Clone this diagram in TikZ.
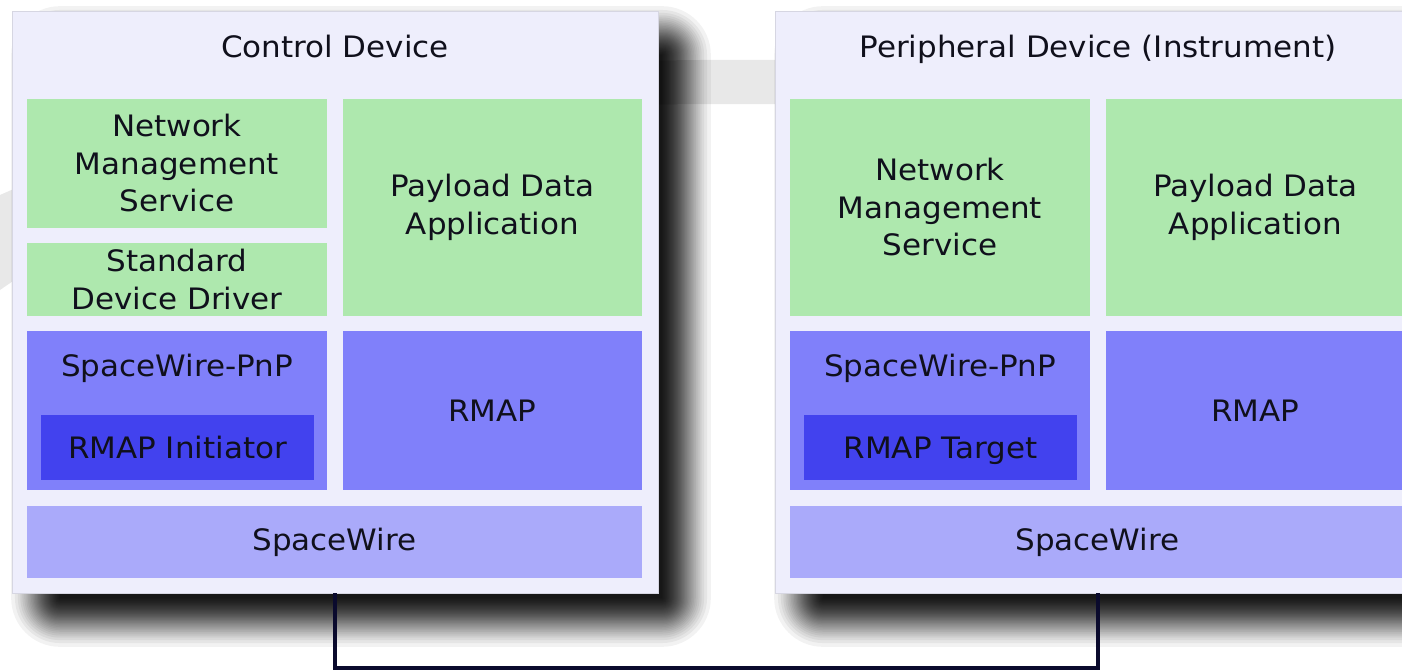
\documentclass[tikz,border=0pt]{standalone}
\usepackage{fontspec}
\setmainfont{DejaVu Sans}[FakeStretch=1.05]
\definecolor{panelbg}{RGB}{238,238,252}
\definecolor{panelln}{RGB}{214,214,226}
\definecolor{appgreen}{RGB}{174,232,174}
\definecolor{midblue}{RGB}{128,128,250}
\definecolor{darkblue}{RGB}{66,66,238}
\definecolor{lightblue}{RGB}{170,170,250}
\definecolor{txtc}{RGB}{16,16,28}
\definecolor{wirec}{RGB}{10,10,45}
\definecolor{swoosh}{RGB}{232,232,232}
\begin{document}
\begin{tikzpicture}[x=1pt,y=-1pt,
  panel/.style={fill=panelbg, draw=panelln, line width=1pt, inner sep=0pt, outer sep=0pt},
  blk/.style={inner sep=0pt, outer sep=0pt, align=center, text=txtc,
    font=\fontsize{29.5}{37.5}\selectfont},
  green/.style={blk, fill=appgreen},
  mid/.style={blk, fill=midblue},
  dark/.style={blk, fill=darkblue, text height=22pt, text depth=0pt},
  light/.style={blk, fill=lightblue},
  txt/.style={inner sep=0pt, align=center, text=txtc, font=\fontsize{29.5}{37.5}\selectfont},
  ttl/.style={inner sep=0pt, text=txtc, text height=22pt, text depth=0pt, font=\fontsize{29.5}{36}\selectfont},
  wire/.style={draw=wirec, line width=3.5pt}
]
\useasboundingbox (0,0) rectangle (1402,671);
\clip (0,0) rectangle (1402,671);
\fill[white] (0,0) rectangle (1402,671);
% faint background swoosh
\fill[swoosh] (0,195) .. controls (250,85) and (450,62) .. (700,60) -- (1402,58)
  -- (1402,106) -- (700,104) .. controls (420,106) and (200,150) .. (0,290) -- cycle;
% drop shadows (smooth fade from a core rectangle)
\foreach \dx in {0,763}{
  \foreach \k in {1,...,40}{
    \pgfmathsetmacro\r{58*(1-sqrt(\k/40))+0.01}
    \fill[black, opacity=0.05, rounded corners=\r pt]
      (60+\dx-\r, 55-\r) rectangle (662+\dx+\r, 598+\r);
  }
}
% panels
\node[panel, minimum width=646, minimum height=581] (lp) at (335,302.5) {};
\node[panel, minimum width=646, minimum height=581] (rp) at (1098,302.5) {};
% connector
\coordinate (bus) at (0,668);
\draw[wire] (lp.south) -- (lp.south |- bus) -| (rp.south);
% left panel content
\node[ttl] (lt) at (335,47) {Control Device};
\node[green, minimum width=300, minimum height=129] (lnms) at (177,163.5) {Network\\Management\\Service};
\node[green, minimum width=300, minimum height=73] (lsdd) at (177,279.5) {Standard\\Device Driver};
\node[green, minimum width=299, minimum height=217] (lpda) at (492.5,207.5) {Payload Data\\Application};
\node[mid, minimum width=300, minimum height=159] (lpnp) at (177,410.5) {};
\node[txt] (lpnpt) at (177,368) {SpaceWire-PnP};
\node[dark, minimum width=273, minimum height=65] (linit) at (177.5,447.5) {RMAP Initiator};
\node[mid, minimum width=299, minimum height=159] (lrmap) at (492.5,410.5) {RMAP};
\node[light, minimum width=615, minimum height=72] (lsw) at (334.5,542) {SpaceWire};
% right panel content
\node[ttl] (rt) at (1098,47) {Peripheral Device (Instrument)};
\node[green, minimum width=300, minimum height=217] (rnms) at (940,207.5) {Network\\Management\\Service};
\node[green, minimum width=299, minimum height=217] (rpda) at (1255.5,207.5) {Payload Data\\Application};
\node[mid, minimum width=300, minimum height=159] (rpnp) at (940,410.5) {};
\node[txt] (rpnpt) at (940,368) {SpaceWire-PnP};
\node[dark, minimum width=273, minimum height=65] (rtgt) at (940.5,447.5) {RMAP Target};
\node[mid, minimum width=299, minimum height=159] (rrmap) at (1255.5,410.5) {RMAP};
\node[light, minimum width=615, minimum height=72] (rsw) at (1097.5,542) {SpaceWire};
\end{tikzpicture}
\end{document}
